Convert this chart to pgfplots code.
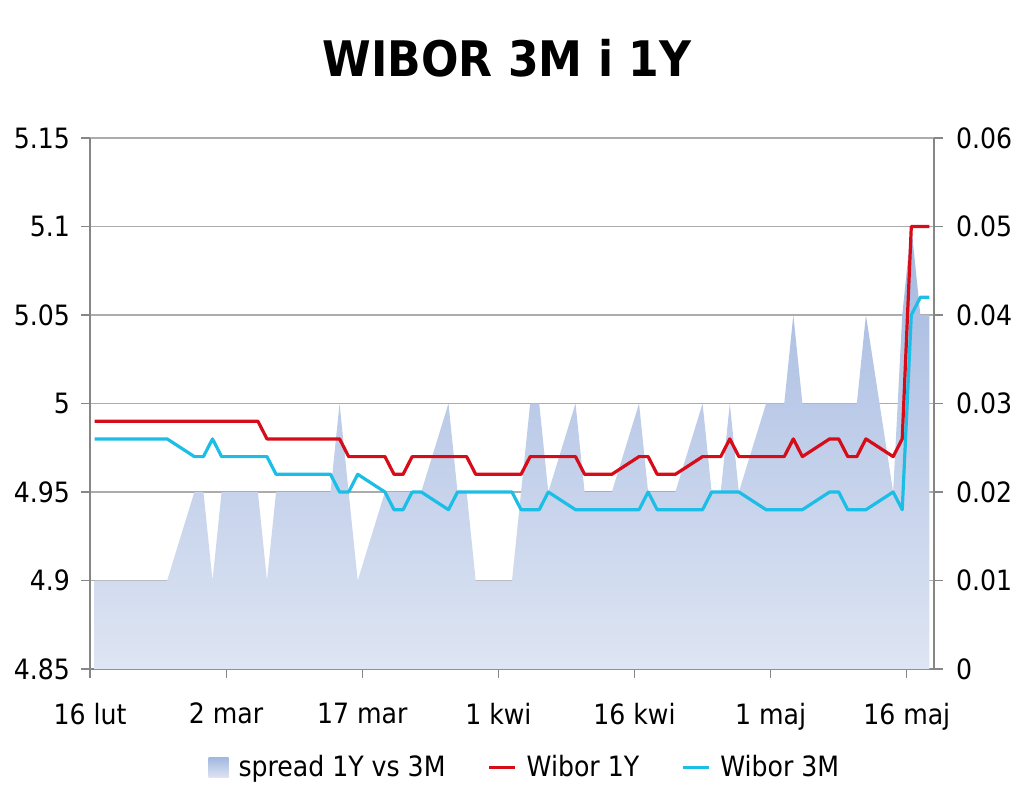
\documentclass[border=0pt]{standalone}
\usepackage{pgfplots}
\usepackage{pgfplotstable}
\pgfplotsset{compat=1.18}
\usepackage{fontspec}
\setmainfont{DejaVu Sans Condensed}
\definecolor{wred}{RGB}{214,12,24}
\definecolor{wcyan}{RGB}{28,190,230}
\definecolor{atop}{RGB}{163,184,224}
\definecolor{abot}{RGB}{222,229,243}
\definecolor{axgray}{RGB}{134,134,134}
\definecolor{grgray}{RGB}{172,172,172}

\pgfplotstableread{
d y1 m3 sp
0 4.99 4.98 0.01
1 4.99 4.98 0.01
4 4.99 4.98 0.01
5 4.99 4.98 0.01
6 4.99 4.98 0.01
7 4.99 4.98 0.01
8 4.99 4.98 0.01
11 4.99 4.97 0.02
12 4.99 4.97 0.02
13 4.99 4.98 0.01
14 4.99 4.97 0.02
15 4.99 4.97 0.02
18 4.99 4.97 0.02
19 4.98 4.97 0.01
20 4.98 4.96 0.02
21 4.98 4.96 0.02
22 4.98 4.96 0.02
25 4.98 4.96 0.02
26 4.98 4.96 0.02
27 4.98 4.95 0.03
28 4.97 4.95 0.02
29 4.97 4.96 0.01
32 4.97 4.95 0.02
33 4.96 4.94 0.02
34 4.96 4.94 0.02
35 4.97 4.95 0.02
36 4.97 4.95 0.02
39 4.97 4.94 0.03
40 4.97 4.95 0.02
41 4.97 4.95 0.02
42 4.96 4.95 0.01
43 4.96 4.95 0.01
46 4.96 4.95 0.01
47 4.96 4.94 0.02
48 4.97 4.94 0.03
49 4.97 4.94 0.03
50 4.97 4.95 0.02
53 4.97 4.94 0.03
54 4.96 4.94 0.02
55 4.96 4.94 0.02
56 4.96 4.94 0.02
57 4.96 4.94 0.02
60 4.97 4.94 0.03
61 4.97 4.95 0.02
62 4.96 4.94 0.02
63 4.96 4.94 0.02
64 4.96 4.94 0.02
67 4.97 4.94 0.03
68 4.97 4.95 0.02
69 4.97 4.95 0.02
70 4.98 4.95 0.03
71 4.97 4.95 0.02
74 4.97 4.94 0.03
75 4.97 4.94 0.03
76 4.97 4.94 0.03
77 4.98 4.94 0.04
78 4.97 4.94 0.03
81 4.98 4.95 0.03
82 4.98 4.95 0.03
83 4.97 4.94 0.03
84 4.97 4.94 0.03
85 4.98 4.94 0.04
88 4.97 4.95 0.02
89 4.98 4.94 0.04
90 5.10 5.05 0.05
91 5.10 5.06 0.04
92 5.10 5.06 0.04
}\data

\pgfplotsset{
  common/.style={
    scale only axis, width=422pt, height=265.5pt,
    xmin=-0.5, xmax=92.5,
    tick align=outside,
    major tick length=4.5pt,
    every tick/.style={axgray, line width=0.6pt},
    axis line style={axgray, line width=0.8pt},
    tick label style={font=\fontsize{14}{16}\selectfont},
    scaled y ticks=false,
    /pgf/number format/assume math mode=true,
  },
  shortline/.style={legend image code/.code={\draw[##1] (0pt,0pt) -- (13pt,0pt);}},
}

\begin{document}
\begin{tikzpicture}
\begin{axis}[common,
  axis x line*=bottom, axis y line*=right,
  ymin=0, ymax=0.06,
  ytick={0,0.01,0.02,0.03,0.04,0.05,0.06},
  yticklabels={0,0.01,0.02,0.03,0.04,0.05,0.06},
  xtick={-0.5,14.5,29.5,44.5,59.5,74.5,89.5},
  xticklabels={16 lut,2 mar,17 mar,1 kwi,16 kwi,1 maj,16 maj},
  ymajorgrids, grid style={grgray, line width=0.6pt},
  x tick label style={yshift=-9pt},
  y tick label style={xshift=3pt},
]
\addplot[draw=none, top color=atop, bottom color=abot] table[x=d,y=sp]{\data} \closedcycle;
\coordinate (sw) at (rel axis cs:0,0);
\coordinate (ne) at (rel axis cs:1,1);
\coordinate (tc) at (rel axis cs:0.494,1);
\end{axis}
\begin{axis}[common,
  axis x line=none, axis y line*=left,
  ymin=4.85, ymax=5.15,
  ytick={4.85,4.9,4.95,5,5.05,5.1,5.15},
  yticklabels={4.85,4.9,4.95,5,5.05,5.1,5.15},
  y tick label style={xshift=-2pt},
  legend style={draw=none, fill=none, at={(0.52,-0.186)}, anchor=center,
    font=\fontsize{14}{16}\selectfont,
    nodes={inner xsep=5pt},
    /tikz/every even column/.append style={column sep=16pt}},
  legend columns=3,
  legend cell align=left,
]
\addlegendimage{legend image code/.code={\path[draw=none,top color=atop,bottom color=abot] (0pt,-5pt) rectangle (10pt,5pt);}}
\addlegendentry{spread 1Y vs 3M}
\addplot[wred, line width=1.6pt, line join=round, shortline] table[x=d,y=y1]{\data};
\addlegendentry{Wibor 1Y}
\addplot[wcyan, line width=1.6pt, line join=round, shortline] table[x=d,y=m3]{\data};
\addlegendentry{Wibor 3M}
\end{axis}
\node[font=\fontsize{24.5}{28}\selectfont\bfseries, anchor=base, yshift=30.7pt] at (tc) {WIBOR 3M i 1Y};
\pgfresetboundingbox
\path[use as bounding box] ([xshift=-45pt,yshift=-61pt]sw) rectangle ([xshift=45pt,yshift=69pt]ne);
\end{tikzpicture}
\end{document}
